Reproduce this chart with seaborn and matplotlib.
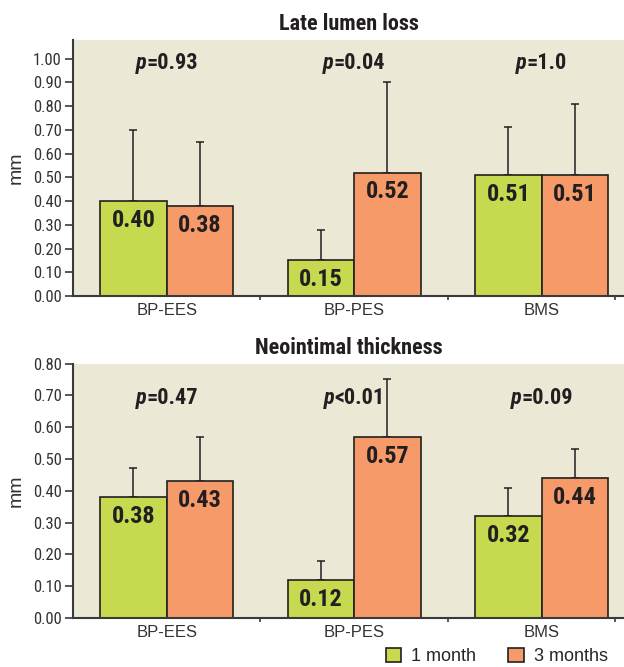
import matplotlib
matplotlib.use("Agg")
import matplotlib.pyplot as plt
import matplotlib.transforms as mtransforms
from matplotlib.patches import Patch
import seaborn as sns
import pandas as pd
import numpy as np

# ---------------- data ----------------
groups = ["BP-EES", "BP-PES", "BMS"]
series = ["1 month", "3 months"]

late_1m = [0.40, 0.15, 0.51]
late_3m = [0.38, 0.52, 0.51]
late_1m_sd = [0.30, 0.13, 0.20]
late_3m_sd = [0.27, 0.38, 0.30]
late_p_sym = ["=", "=", "="]
late_p_val = ["0.93", "0.04", "1.0"]

neo_1m = [0.38, 0.12, 0.32]
neo_3m = [0.43, 0.57, 0.44]
neo_1m_sd = [0.09, 0.06, 0.09]
neo_3m_sd = [0.14, 0.18, 0.09]
neo_p_sym = ["=", "<", "="]
neo_p_val = ["0.47", "0.01", "0.09"]

late_yticks = [0.0, 0.1, 0.2, 0.3, 0.4, 0.5, 0.6, 0.7, 0.8, 0.9, 1.0]
neo_yticks = [0.0, 0.1, 0.2, 0.3, 0.4, 0.5, 0.6, 0.7, 0.8]

# ---------------- style ----------------
sns.set_theme(style="white")
COND = ["Roboto Condensed", "DejaVu Sans"]
REG = ["Liberation Sans", "DejaVu Sans"]
plt.rcParams["font.family"] = REG

GREEN = "#C6D94F"
ORANGE = "#F79A6A"
BG = "#ECE8D6"
DARK = "#231F20"
SPINE = "#3A3A3A"

fig = plt.figure(figsize=(6.24, 6.67), dpi=100)
ax1 = fig.add_axes([73 / 624, 1 - 296 / 667, 1 - 73 / 624, (296 - 40) / 667])
ax2 = fig.add_axes([73 / 624, 1 - 618 / 667, 1 - 73 / 624, (618 - 363.5) / 667])


def panel(ax, v1, v3, s1, s3, psym, pval, yticks, ylim, title, py):
    df = pd.DataFrame({
        "group": groups * 2,
        "period": [series[0]] * 3 + [series[1]] * 3,
        "value": list(v1) + list(v3),
    })
    sns.barplot(data=df, x="group", y="value", hue="period", order=groups,
                hue_order=series, palette=[GREEN, ORANGE], errorbar=None,
                width=0.71, edgecolor=DARK, linewidth=1.2, saturation=1,
                legend=False, ax=ax, zorder=3)
    ax.set_facecolor(BG)
    sds = [s1, s3]
    vals = [v1, v3]
    bar_conts = list(ax.containers)
    for ci, cont in enumerate(bar_conts):
        xs = [p.get_x() + p.get_width() / 2 for p in cont.patches]
        hs = [p.get_height() for p in cont.patches]
        ax.errorbar(xs, hs, yerr=[[0] * len(hs), sds[ci]], fmt="none",
                    ecolor=DARK, elinewidth=1.1, capsize=3, capthick=1.1,
                    zorder=2)
        for x, h, v in zip(xs, hs, vals[ci]):
            ax.annotate(f"{v:.2f}", (x, h), xytext=(0, -14),
                        textcoords="offset points", ha="center", va="center",
                        fontsize=17.5, fontweight="bold", family=COND,
                        color=DARK, zorder=5)
    # p values
    fig.canvas.draw()
    r = fig.canvas.get_renderer()
    for i in range(len(groups)):
        tp = ax.text(i, py, "p", transform=ax.get_xaxis_transform(),
                     fontsize=16, fontweight="bold", fontstyle="italic",
                     family=COND, color=DARK, ha="left", va="center")
        tv = ax.text(i, py, psym[i] + pval[i], transform=ax.get_xaxis_transform(),
                     fontsize=16, fontweight="bold", family=COND, color=DARK,
                     ha="left", va="center")
        wp = tp.get_window_extent(r).width
        wv = tv.get_window_extent(r).width
        tot = wp + wv
        tp.set_transform(mtransforms.offset_copy(ax.get_xaxis_transform(), fig=fig,
                                                 x=-tot / 2 * 72 / fig.dpi, units="points"))
        tv.set_transform(mtransforms.offset_copy(ax.get_xaxis_transform(), fig=fig,
                                                 x=(-tot / 2 + wp) * 72 / fig.dpi, units="points"))

    ax.set_xlim(-0.5, 2.44)
    ax.set_ylim(*ylim)
    ax.set_yticks(yticks)
    ax.set_yticklabels([f"{t:.2f}" for t in yticks], family=COND, fontsize=12,
                       color="#333333")
    ax.set_xticks(range(len(groups)))
    ax.set_xticklabels(groups, fontsize=12, color="#333333", family=REG)
    ax.set_xticks([0.5, 1.5, 2.39], minor=True)
    ax.tick_params(axis="x", which="major", length=0, pad=5)
    ax.tick_params(axis="x", which="minor", length=3, width=1.2, color=SPINE,
                   direction="out", bottom=True)
    ax.tick_params(axis="y", which="major", length=6, width=1.2, color=SPINE,
                   direction="out", left=True, pad=2)
    for s in ["top", "right"]:
        ax.spines[s].set_visible(False)
    for s in ["left", "bottom"]:
        ax.spines[s].set_color(SPINE)
        ax.spines[s].set_linewidth(1.5)
        ax.spines[s].set_zorder(6)
    ax.set_xlabel("")
    ax.set_ylabel("mm", fontsize=14, color="#333333", labelpad=6, family=REG)
    ax.set_title(title, fontsize=16, fontweight="bold", family=COND, color=DARK,
                 pad=7)


panel(ax1, late_1m, late_3m, late_1m_sd, late_3m_sd, late_p_sym, late_p_val,
      late_yticks, (0, 1.078), "Late lumen loss", 0.91)
panel(ax2, neo_1m, neo_3m, neo_1m_sd, neo_3m_sd, neo_p_sym, neo_p_val,
      neo_yticks, (0, 0.80), "Neointimal thickness", 0.866)

handles = [Patch(facecolor=GREEN, edgecolor=DARK, linewidth=1.2),
           Patch(facecolor=ORANGE, edgecolor=DARK, linewidth=1.2)]
fig.legend(handles, series, loc="lower right", bbox_to_anchor=(1.0, -0.022),
           ncol=2, frameon=False, handlelength=0.85,
           handleheight=0.85, handletextpad=0.55, columnspacing=1.8,
           prop={"family": REG, "size": 13})

fig.savefig("out.png", dpi=100, facecolor="white")
